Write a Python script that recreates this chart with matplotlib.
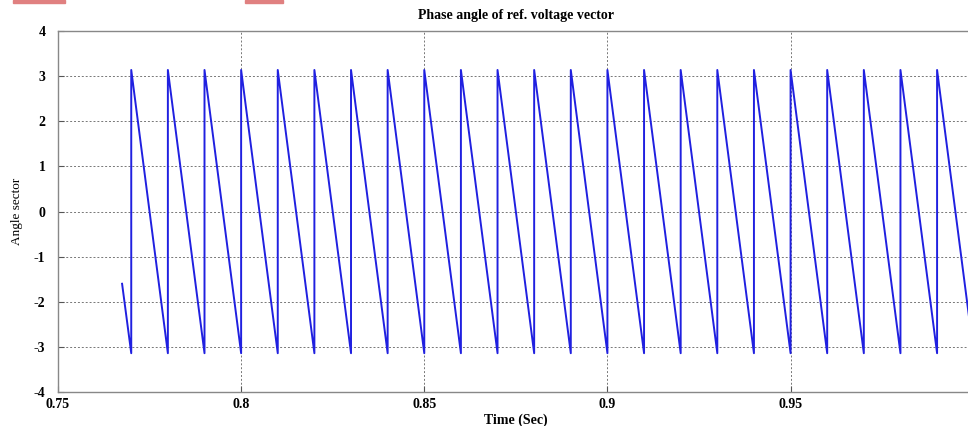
import numpy as np
import matplotlib.pyplot as plt
from matplotlib.patches import Rectangle

# valeurs
t_debut = 0.7675
angle_debut = -1.6
instants_saut = [0.77, 0.78, 0.79, 0.80, 0.81, 0.82, 0.83, 0.84, 0.85, 0.86,
                 0.87, 0.88, 0.89, 0.90, 0.91, 0.92, 0.93, 0.94, 0.95, 0.96,
                 0.97, 0.98, 0.99]
angle_max = 3.14
angle_min = -3.14
t_fin = 1.0

x_ticks = [0.75, 0.8, 0.85, 0.9, 0.95, 1.0]
x_labels = ['0.75', '0.8', '0.85', '0.9', '0.95', '']
y_ticks = [-4, -3, -2, -1, 0, 1, 2, 3, 4]

# construction de la courbe en dents de scie
t = [t_debut]
angle = [angle_debut]
for ts in instants_saut:
    t += [ts, ts]
    angle += [angle_min, angle_max]
t.append(t_fin)
angle.append(angle_min)

plt.rcParams['font.family'] = ['Liberation Serif', 'DejaVu Serif']

fig = plt.figure(figsize=(9.68, 4.26), dpi=100)
ax = fig.add_axes([0.0599, 0.0798, 0.946, 0.847])

ax.plot(t, angle, color='#2020e0', linewidth=1.4)

ax.set_xlim(0.75, 1.0)
ax.set_ylim(-4, 4)
ax.set_xticks(x_ticks)
ax.set_xticklabels(x_labels, fontweight='bold', fontsize=10)
ax.set_yticks(y_ticks)
ax.set_yticklabels([str(v) for v in y_ticks], fontweight='bold', fontsize=10)
ax.tick_params(axis='x', direction='in', length=4, color='#555555', pad=4)
ax.tick_params(axis='y', direction='in', length=4, color='#555555', pad=9)
ax.grid(True, linestyle=(0, (2, 2)), color='#777777', linewidth=0.7)
for s in ax.spines.values():
    s.set_color('#888888')
    s.set_linewidth(1.0)

ax.set_title('Phase angle of ref. voltage vector', fontsize=10, fontweight='bold', pad=9)
ax.set_xlabel('Time (Sec)', fontsize=10, fontweight='bold', labelpad=2)
ax.set_ylabel('Angle sector', fontsize=9.5, labelpad=8)

# restes de surlignage en haut de l'image
fig.patches.append(Rectangle((13 / 968, 1 - 3 / 426), 52 / 968, 3 / 426,
                             transform=fig.transFigure, color='#e08080'))
fig.patches.append(Rectangle((245 / 968, 1 - 3 / 426), 38 / 968, 3 / 426,
                             transform=fig.transFigure, color='#e08080'))

fig.savefig('out.png', dpi=100)
